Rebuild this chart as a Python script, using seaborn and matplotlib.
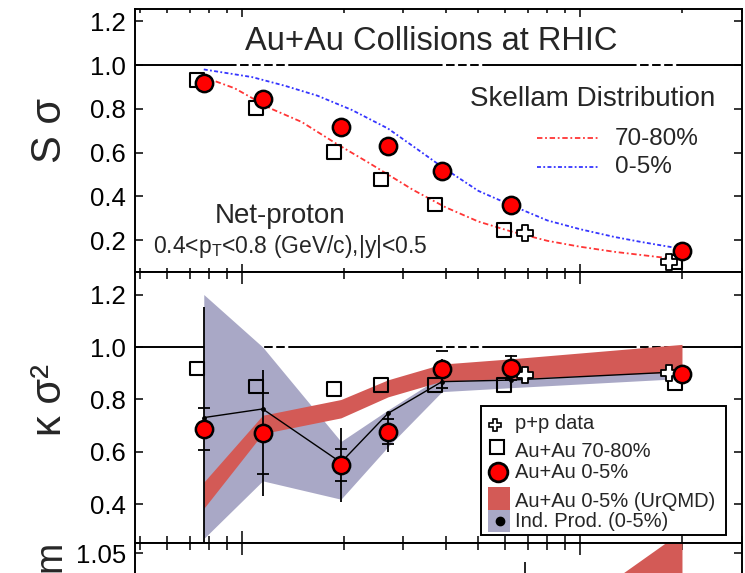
import numpy as np
import pandas as pd
import matplotlib
matplotlib.use("Agg")
import matplotlib.pyplot as plt
import seaborn as sns
from matplotlib.patches import Rectangle
from matplotlib.ticker import LogLocator, NullFormatter, MultipleLocator, FixedLocator

# ---------------- data ----------------
energies = [7.7, 11.5, 19.6, 27, 39, 62.4, 200]
pp_energies = [62.4, 200]

# top panel: S*sigma
ssig_central = [0.92, 0.847, 0.715, 0.629, 0.515, 0.362, 0.151]      # Au+Au 0-5%
ssig_periph = [0.932, 0.803, 0.603, 0.477, 0.364, 0.247, 0.10]       # Au+Au 70-80%
ssig_pp = [0.233, 0.10]

skellam_central_E = [7.7, 10.7, 13.4, 16.7, 21.1, 27, 33, 39, 50, 62.4, 80, 100, 126, 150, 200]
skellam_central = [0.98, 0.945, 0.905, 0.86, 0.795, 0.71, 0.615, 0.535, 0.425, 0.36, 0.29, 0.25, 0.215, 0.193, 0.16]
skellam_periph_E = [7.7, 9.5, 12.2, 15, 18.8, 23.6, 27, 32, 40, 50, 62.4, 80, 100, 126, 177, 200]
skellam_periph = [0.945, 0.894, 0.80, 0.74, 0.645, 0.555, 0.50, 0.43, 0.35, 0.285, 0.24, 0.197, 0.17, 0.147, 0.12, 0.11]

# middle panel: kappa*sigma^2
kappa_central = [0.688, 0.671, 0.55, 0.677, 0.915, 0.919, 0.896]
kappa_central_stat = [0.465, 0.24, 0.14, 0.076, 0.04, 0.05, 0.02]
kappa_central_sys = [0.08, 0.155, 0.062, 0.048, 0.07, 0.045, 0.02]
kappa_periph = [0.919, 0.849, 0.839, 0.855, 0.855, 0.855, 0.863]
kappa_pp = [0.893, 0.90]
kappa_pp_err = [0.02, 0.03]
indprod = [0.731, 0.764, 0.56, 0.747, 0.868, 0.874, 0.906]
indprod_low = [0.27, 0.49, 0.42, 0.62, 0.83, 0.845, 0.88]
indprod_high = [1.20, 1.00, 0.64, 0.76, 0.89, 0.90, 0.935]
urqmd_low = [0.385, 0.67, 0.73, 0.81, 0.87, 0.88, 0.905]
urqmd_high = [0.485, 0.74, 0.80, 0.875, 0.935, 0.955, 1.01]

# bottom (cut) panel
ratio_E = [62.4, 200]
ratio_urqmd_low = [0.90, 1.01]
ratio_urqmd_high = [0.96, 1.07]
ratio_pp = [1.0]
ratio_pp_err = [0.042]

# ---------------- style ----------------
sns.set_theme(style="ticks")
plt.rcParams["font.family"] = ["Liberation Sans", "DejaVu Sans"]
plt.rcParams["mathtext.fontset"] = "custom"
plt.rcParams["mathtext.rm"] = "Liberation Sans"
plt.rcParams["mathtext.it"] = "Liberation Sans:italic"

RED_BAND = "#d35a56"
GREY_BAND = "#a9a8c6"
SQ_SHIFT = 0.955
PP_SHIFT = [1.1, 0.915]

fig = plt.figure(figsize=(7.45, 5.73), dpi=100)
L, W = 135 / 745, 607 / 745
ax1 = fig.add_axes([L, 1 - 271.7 / 573, W, (271.7 - 9) / 573])
ax2 = fig.add_axes([L, 1 - 543.3 / 573, W, (543.3 - 271.7) / 573])
ax3 = fig.add_axes([L, 1 - 543.3 / 573 - 0.45, W, 0.45])


def style_axes(ax, maj, mnr):
    ax.set_xscale("log")
    ax.set_xlim(4.82, 301)
    ax.xaxis.set_major_locator(LogLocator(base=10, numticks=10))
    ax.xaxis.set_minor_locator(LogLocator(base=10, subs=np.arange(2, 10), numticks=30))
    ax.xaxis.set_major_formatter(NullFormatter())
    ax.xaxis.set_minor_formatter(NullFormatter())
    ax.tick_params(axis="x", which="major", direction="in", top=True, bottom=True,
                   length=maj, width=1.1, color="black", labelbottom=False)
    ax.tick_params(axis="x", which="minor", direction="in", top=True, bottom=True,
                   length=mnr, width=1.1, color="black")
    ax.tick_params(axis="y", which="major", direction="in", left=True, right=True,
                   length=5.8, width=1.1, color="black", labelsize=18.5, pad=6.5,
                   labelcolor="black")
    ax.tick_params(axis="y", which="minor", left=False, right=False)
    for s in ax.spines.values():
        s.set_linewidth(1.4)
        s.set_color("black")
    ax.set_xlabel("")
    ax.set_ylabel("")
    ax.set_facecolor("white")


def unity_line(ax):
    tr = ax.get_yaxis_transform()
    for a, b in [(0, 0.153), (0.254, 0.493), (0.573, 0.812), (0.893, 1.0)]:
        ax.plot([a, b], [1, 1], transform=tr, color="black", lw=1.4, zorder=1.5,
                solid_capstyle="butt")
    for a, b in [(0.153, 0.254), (0.493, 0.573), (0.812, 0.893)]:
        ax.plot([a, b], [1, 1], transform=tr, color="black", lw=1.4, zorder=1.5,
                dashes=(4.4, 1.8))


sq_E = [e * SQ_SHIFT for e in energies]
pp_E = [e * f for e, f in zip(pp_energies, PP_SHIFT)]

# ---------------- top panel ----------------
ax = ax1
ax.set_xscale("log")
unity_line(ax)
sns.lineplot(x=skellam_periph_E, y=skellam_periph, ax=ax, color="#ff3535", lw=1.3,
             legend=False, zorder=2)
ax.lines[-1].set_linestyle((0, (3, 1.5, 1, 1.5)))
sns.lineplot(x=skellam_central_E, y=skellam_central, ax=ax, color="#3535ff", lw=1.3,
             legend=False, zorder=2)
ax.lines[-1].set_linestyle((0, (2.2, 1.3, 1, 1.3)))
sns.scatterplot(x=sq_E, y=ssig_periph, ax=ax, marker="s", s=95, color="black",
                edgecolor="black", linewidth=1.5, zorder=4, legend=False)
ax.collections[-1].set_facecolor("none")
sns.scatterplot(x=pp_E, y=ssig_pp, ax=ax, marker="P", s=120, color="white",
                edgecolor="black", linewidth=1.3, zorder=5, legend=False)
sns.scatterplot(x=energies, y=ssig_central, ax=ax, marker="o", s=155, color="#ff0000",
                edgecolor="black", linewidth=1.8, zorder=6, legend=False)
style_axes(ax, 5.8, 3.2)
ax.set_ylim(0.056, 1.256)
ax.yaxis.set_major_locator(MultipleLocator(0.2))

ax.text(0.4876, 0.844, "Au+Au Collisions at RHIC", transform=ax.transAxes,
        ha="center", va="baseline", fontsize=23.5)
ax.text(0.552, 0.632, "Skellam Distribution", transform=ax.transAxes,
        ha="left", va="baseline", fontsize=20)
ax.plot([0.662, 0.763], [0.508, 0.508], transform=ax.transAxes, color="#ff3535",
        lw=1.3, ls=(0, (3, 1.5, 1, 1.5)))
ax.plot([0.662, 0.763], [0.397, 0.397], transform=ax.transAxes, color="#3535ff",
        lw=1.3, ls=(0, (2.2, 1.3, 1, 1.3)))
ax.text(0.791, 0.482, "70-80%", transform=ax.transAxes, ha="left", va="baseline",
        fontsize=17.5)
ax.text(0.791, 0.375, "0-5%", transform=ax.transAxes, ha="left", va="baseline",
        fontsize=17.5)
ax.text(0.132, 0.184, "Net-proton", transform=ax.transAxes, ha="left",
        va="baseline", fontsize=20)
ax.text(0.0297, 0.070, r"0.4<p$_{\mathregular{T}}$<0.8 (GeV/c),|y|<0.5",
        transform=ax.transAxes, ha="left", va="baseline", fontsize=16.5)

# ---------------- middle panel ----------------
ax = ax2
ax.set_xscale("log")
unity_line(ax)
ax.fill_between(energies, indprod_low, indprod_high, color=GREY_BAND, lw=0, zorder=2)
ax.fill_between(energies, urqmd_low, urqmd_high, color=RED_BAND, lw=0, zorder=2.5)
sns.lineplot(x=energies, y=indprod, ax=ax, color="black", lw=1.0, marker="o",
             markersize=3.5, markeredgewidth=0, legend=False, zorder=3)
ax.errorbar(energies, kappa_central, yerr=kappa_central_stat, fmt="none",
            ecolor="black", elinewidth=1.3, zorder=3.5)
ax.errorbar(energies, kappa_central, yerr=kappa_central_sys, fmt="none",
            ecolor="black", elinewidth=0, capsize=4.5, capthick=1.3, zorder=3.5)
ax.errorbar(pp_E, kappa_pp, yerr=kappa_pp_err, fmt="none", ecolor="black",
            elinewidth=1.2, zorder=3.5)
sns.scatterplot(x=sq_E, y=kappa_periph, ax=ax, marker="s", s=95, color="black",
                edgecolor="black", linewidth=1.5, zorder=4, legend=False)
ax.collections[-1].set_facecolor("none")
sns.scatterplot(x=pp_E, y=kappa_pp, ax=ax, marker="P", s=120, color="white",
                edgecolor="black", linewidth=1.3, zorder=5, legend=False)
sns.scatterplot(x=energies, y=kappa_central, ax=ax, marker="o", s=155, color="#ff0000",
                edgecolor="black", linewidth=1.8, zorder=6, legend=False)
style_axes(ax, 8.6, 5.0)
ax.set_ylim(0.252, 1.287)
ax.yaxis.set_major_locator(MultipleLocator(0.2))

# legend box (drawn by hand to follow the reference spacing)
T = ax.transAxes
ax.add_patch(Rectangle((0.570, 0.0306), 0.404, 0.475, transform=T, fc="white",
                       ec="black", lw=1.4, zorder=7))
ax.plot([0.593, 0.593], [0.415, 0.457], transform=T, color="black", lw=1.2, zorder=8)
ax.plot([0.593], [0.436], transform=T, marker="P", ms=9, mfc="white", mec="black",
        mew=1.2, zorder=9, ls="none")
ax.plot([0.597], [0.356], transform=T, marker="s", ms=9.5, mfc="none", mec="black",
        mew=1.5, zorder=9, ls="none")
ax.plot([0.598], [0.264], transform=T, marker="o", ms=13.5, mfc="#ff0000",
        mec="black", mew=2.0, zorder=9, ls="none")
ax.add_patch(Rectangle((0.5815, 0.1226), 0.0365, 0.0844, transform=T,
                       fc=RED_BAND, ec="none", zorder=8))
ax.add_patch(Rectangle((0.5815, 0.0416), 0.0365, 0.081, transform=T,
                       fc=GREY_BAND, ec="none", zorder=8))
ax.plot([0.601], [0.083], transform=T, marker="o", ms=6, mfc="black", mec="black",
        zorder=9, ls="none")
leg_labels = ["p+p data", "Au+Au 70-80%", "Au+Au 0-5%", "Au+Au 0-5% (UrQMD)",
              "Ind. Prod. (0-5%)"]
for lab, yb in zip(leg_labels, [0.42, 0.319, 0.239, 0.135, 0.059]):
    ax.text(0.626, yb, lab, transform=T, ha="left", va="baseline", fontsize=14.5,
            zorder=9)

# ---------------- bottom (cut) panel ----------------
ax = ax3
ax.set_xscale("log")
ax.fill_between(ratio_E, ratio_urqmd_low, ratio_urqmd_high, color=RED_BAND, lw=0,
                zorder=2)
ax.errorbar([pp_E[0]], ratio_pp, yerr=ratio_pp_err, fmt="none", ecolor="black",
            elinewidth=1.2, zorder=3)
style_axes(ax, 8.6, 5.0)
ax.set_ylim(0.825, 1.059)
ax.yaxis.set_major_locator(FixedLocator([1.05]))
ax.yaxis.set_major_formatter(matplotlib.ticker.FormatStrFormatter("%.2f"))

# axis titles (the bottom panel's title is cut by the figure edge; only its
# last letter is visible in the reference)
fig.text(50 / 745, 1 - 130.5 / 573, "S σ", rotation=90, ha="center", va="center",
         fontsize=30)
fig.text(50 / 745, 1 - 400 / 573, "κ σ²", rotation=90, ha="center", va="center",
         fontsize=30)
fig.text(50 / 745, 1 - 571.5 / 573, "m", rotation=90, ha="center", va="bottom",
         fontsize=27)

fig.savefig("out.png", dpi=100)
